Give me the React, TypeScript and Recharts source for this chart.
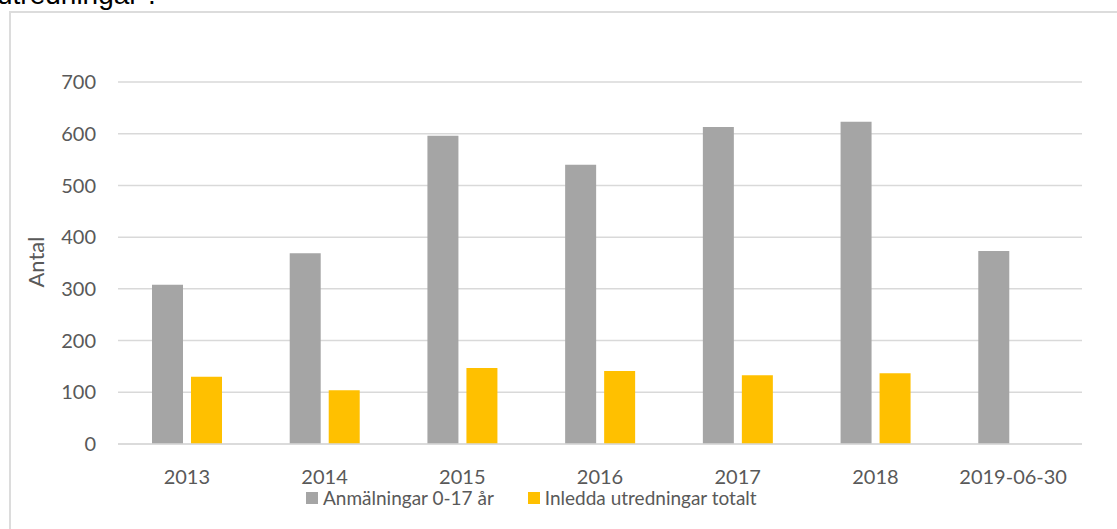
import { BarChart, Bar, XAxis, YAxis, CartesianGrid } from "recharts";

const categories = ["2013", "2014", "2015", "2016", "2017", "2018", "2019-06-30"];
const anmalningar = [308, 369, 596, 540, 613, 623, 373];
const utredningar = [130, 104, 147, 141, 133, 137, null];
const yTicks = [0, 100, 200, 300, 400, 500, 600, 700];

const GRAY = "#A5A5A5";
const YELLOW = "#FFC000";
const TEXT = "#595959";
const FONT = "Lato, 'Open Sans', sans-serif";

const data = categories.map((name, i) => ({
  name,
  anm: anmalningar[i],
  utr: utredningar[i],
}));

export default function App() {
  return (
    <div
      style={{
        position: "absolute",
        left: 0,
        top: 0,
        width: 1117,
        height: 529,
        overflow: "hidden",
        background: "#fff",
        fontFamily: FONT,
      }}
    >
      {/* rubriken ovanför, avklippt i bilden */}
      <div
        style={{
          position: "absolute",
          left: -3,
          top: -20,
          fontFamily: "'Liberation Sans', Arial, sans-serif",
          fontSize: 28,
          lineHeight: "30px",
          color: "#000",
          whiteSpace: "nowrap",
        }}
      >
        utredningar”.
      </div>
      <div
        style={{
          position: "absolute",
          left: 9,
          top: 11,
          width: 1300,
          height: 700,
          border: "2px solid #dcdcdc",
        }}
      />
      <div style={{ position: "absolute", left: 0, top: 0 }}>
        <BarChart
          width={1117}
          height={529}
          data={data}
          margin={{ top: 82, right: 35, bottom: 45, left: 58 }}
          barGap={8}
          barSize={31}
        >
          <CartesianGrid vertical={false} stroke="#d9d9d9" strokeWidth={1.5} />
          <XAxis
            dataKey="name"
            height={40}
            axisLine={{ stroke: "#d9d9d9", strokeWidth: 1.5 }}
            tickLine={false}
            tickMargin={20}
            tick={{ fill: TEXT, fontSize: 20, fontFamily: FONT }}
          />
          <YAxis
            width={60}
            domain={[0, 700]}
            ticks={yTicks}
            axisLine={false}
            tickLine={false}
            tickSize={0}
            tickMargin={22}
            tick={{ fill: TEXT, fontSize: 20, fontFamily: FONT }}
          />
          <Bar dataKey="anm" fill={GRAY} isAnimationActive={false} />
          <Bar dataKey="utr" fill={YELLOW} isAnimationActive={false} />
        </BarChart>
      </div>
      <div
        style={{
          position: "absolute",
          left: 35,
          top: 262,
          transform: "translate(-50%, -50%) rotate(-90deg)",
          fontSize: 22,
          color: TEXT,
        }}
      >
        Antal
      </div>
      <div
        style={{
          position: "absolute",
          left: 306,
          top: 488,
          display: "flex",
          alignItems: "center",
          fontSize: 19,
          lineHeight: "19px",
          color: TEXT,
          whiteSpace: "nowrap",
        }}
      >
        <span style={{ width: 12, height: 12, background: GRAY, marginRight: 5 }} />
        <span style={{ marginRight: 34 }}>Anmälningar 0-17 år</span>
        <span style={{ width: 12, height: 12, background: YELLOW, marginRight: 5 }} />
        <span>Inledda utredningar totalt</span>
      </div>
    </div>
  );
}
